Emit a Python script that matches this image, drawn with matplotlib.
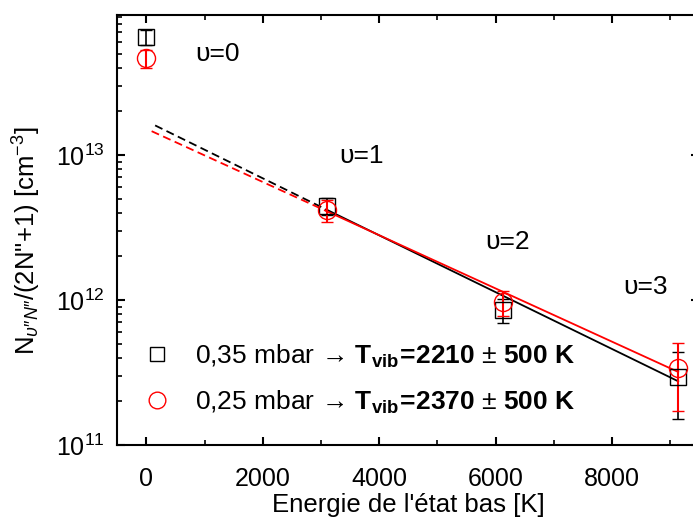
import matplotlib
matplotlib.use('Agg')
import matplotlib.pyplot as plt
from matplotlib.lines import Line2D

plt.rcParams['font.family'] = ['Liberation Sans', 'DejaVu Sans']
plt.rcParams['mathtext.fontset'] = 'custom'
plt.rcParams['mathtext.rm'] = 'Liberation Sans'
plt.rcParams['mathtext.bf'] = 'Liberation Sans:bold'
plt.rcParams['mathtext.it'] = 'Liberation Sans:italic'
plt.rcParams['mathtext.sf'] = 'Liberation Sans'

# energy of the lower vibrational level [K], v = 0..3
energy = [0, 3096, 6131, 9138]
levels = ['υ=0', 'υ=1', 'υ=2', 'υ=3']
level_x = [1220, 3690, 6200, 8580]
level_y = [5.0e13, 9.9e12, 2.5e12, 1.23e12]

# 0,35 mbar (black squares)
n_035 = [6.5e13, 4.45e12, 8.5e11, 2.96e11]
err_035 = [0.76e13, 0.57e12, 1.6e11, 1.45e11]
fit_x_035 = [150, 3096, 9138]
fit_y_035 = [1.6e13, 4.2e12, 2.75e11]

# 0,25 mbar (red circles)
n_025 = [4.64e13, 4.18e12, 9.7e11, 3.38e11]
err_025 = [0.68e13, 0.71e12, 1.9e11, 1.67e11]
fit_x_025 = [90, 3096, 9138]
fit_y_025 = [1.46e13, 4.1e12, 3.19e11]

labels = ['0,35 mbar → $\\mathbf{T_{vib}\\!=\\!2210}$ $\\pm$ $\\mathbf{500\\ K}$',
          '0,25 mbar → $\\mathbf{T_{vib}\\!=\\!2370}$ $\\pm$ $\\mathbf{500\\ K}$']

fig = plt.figure(figsize=(6.93, 5.20), dpi=100)
ax = fig.add_axes([117.3 / 693, 75 / 520, 582 / 693, 430 / 520])
ax.set_yscale('log')

# fits: dashed extrapolation to v=0, solid over v=1..3
ax.plot(fit_x_035[:2], fit_y_035[:2], color='k', ls=(0, (4.5, 2.5)), lw=1.3)
ax.plot(fit_x_035[1:], fit_y_035[1:], color='k', lw=1.3)
ax.plot(fit_x_025[:2], fit_y_025[:2], color='red', ls=(0, (4.5, 2.5)), lw=1.3)
ax.plot(fit_x_025[1:], fit_y_025[1:], color='red', lw=1.3)

ax.errorbar(energy, n_035, yerr=err_035, fmt='s', ms=11, mfc='none', mec='k', mew=1.0,
            ecolor='k', elinewidth=1.2, capsize=4, capthick=1.2)
ax.errorbar(energy, n_025, yerr=err_025, fmt='o', ms=13, mfc='none', mec='red', mew=1.0,
            ecolor='red', elinewidth=1.5, capsize=4, capthick=1.5)

for lab, lx, ly in zip(levels, level_x, level_y):
    ax.text(lx, ly, lab, fontsize=19, ha='center', va='center')

handles = [Line2D([], [], ls='none', marker='s', ms=10, mfc='none', mec='k', mew=1.0),
           Line2D([], [], ls='none', marker='o', ms=12, mfc='none', mec='red', mew=1.0)]
ax.legend(handles, labels, loc='upper left', bbox_to_anchor=(0.048, 0.238), frameon=False,
          fontsize=19, handlelength=0.9, handletextpad=1.0, labelspacing=0.7, borderpad=0,
          borderaxespad=0)

ax.set_xlim(-500, 9500)
ax.set_ylim(1e11, 9.24e13)
ax.set_xticks([0, 2000, 4000, 6000, 8000])
ax.set_xticks(range(1000, 10000, 2000), minor=True)

ax.tick_params(which='both', direction='in', top=True, right=True, labelsize=18)
ax.tick_params(which='major', length=6, width=1.5)
ax.tick_params(which='minor', length=3.5, width=1.2)
ax.tick_params(axis='x', pad=16)
ax.tick_params(axis='y', pad=9)
for sp in ax.spines.values():
    sp.set_linewidth(1.5)

ax.set_xlabel("Energie de l'état bas [K]", fontsize=18.5, labelpad=1)
ax.set_ylabel('N$_{υ″N″}$/(2N"+1) [cm$^{-3}$]', fontsize=18.5)
ax.yaxis.set_label_coords(-0.128, 0.475)

fig.savefig('out.png', dpi=100)
